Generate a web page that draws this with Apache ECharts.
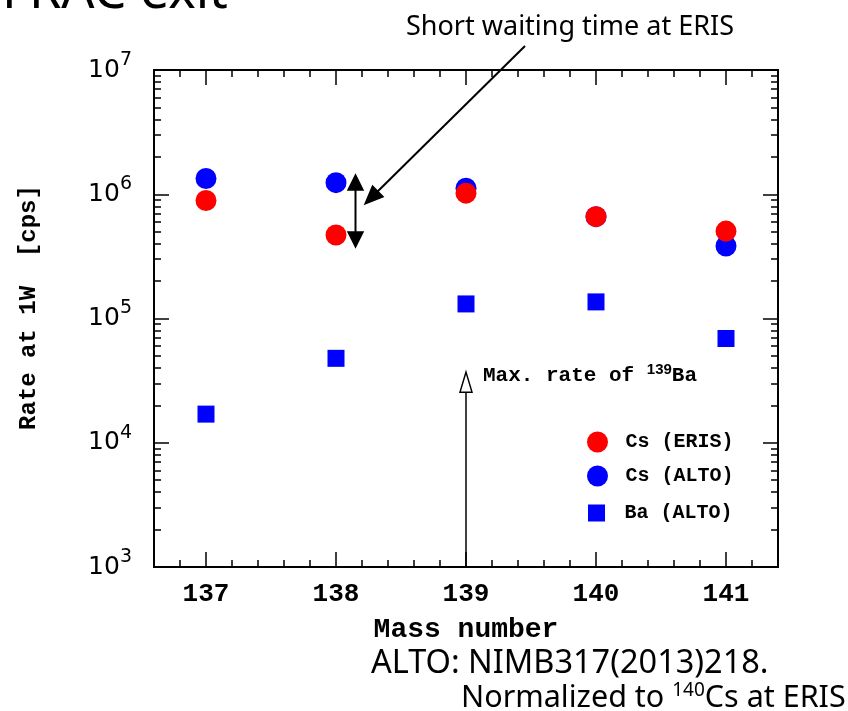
<!DOCTYPE html>
<html><head><meta charset="utf-8">
<script src="https://cdn.jsdelivr.net/npm/echarts@6/dist/echarts.min.js"></script>
<style>html,body{margin:0;padding:0;background:#fff}#c{width:848px;height:711px}</style>
</head><body><div id="c"></div>
<script>
// ---- data ----
const massNumbers = [137, 138, 139, 140, 141];
const csEris = [8.9e5, 4.7e5, 1.02e6, 6.6e5, 5.05e5];
const csAlto = [1.34e6, 1.24e6, 1.12e6, 6.6e5, 3.83e5];
const baAlto = [1.7e4, 4.78e4, 1.31e5, 1.36e5, 6.9e4];
const xMajorTicks = [137, 138, 139, 140, 141];
const xMinorTicks = [136.8, 137.2, 137.4, 137.6, 137.8, 138.2, 138.4, 138.6, 138.8,
  139.2, 139.4, 139.6, 139.8, 140.2, 140.4, 140.6, 140.8, 141.2];
const seriesNames = ['Cs (ERIS)', 'Cs (ALTO)', 'Ba (ALTO)'];
// annotation anchors (data space)
const waitArrow = { x: 138.15, top: 1.43e6, bottom: 3.76e5 };
const maxArrow = { x: 139, top: 3.7e4, bottom: 1e3 };

const mono = 'Liberation Mono';
const sans = 'Noto Sans';
const black = '#000';

const chart = echarts.init(document.getElementById('c'), null, { renderer: 'canvas' });

function xAx(pos, ticks, len, withLabel) {
  const a = {
    type: 'value', position: pos, min: 136.6, max: 141.4,
    axisLine: { show: true, onZero: false, lineStyle: { color: black, width: 2 } },
    axisTick: { show: true, inside: true, length: len, customValues: ticks, lineStyle: { color: black, width: 1.5 } },
    axisLabel: { show: false },
    splitLine: { show: false }
  };
  if (withLabel) {
    a.axisLabel = { show: true, customValues: ticks, margin: 14, fontFamily: mono, fontWeight: 'bold', fontSize: 26, color: black };
    a.name = 'Mass number';
    a.nameLocation = 'middle';
    a.nameGap = 49;
    a.nameTextStyle = { fontFamily: mono, fontWeight: 'bold', fontSize: 28, color: black };
  }
  return a;
}
function yAx(pos, withLabel) {
  const a = {
    type: 'log', logBase: 10, min: 1e3, max: 1e7, position: pos,
    axisLine: { show: true, onZero: false, lineStyle: { color: black, width: 2 } },
    axisTick: { show: true, inside: true, length: 15, lineStyle: { color: black, width: 1.5 } },
    minorTick: { show: true, splitNumber: 9, length: 7, lineStyle: { color: black, width: 1.5 } },
    axisLabel: { show: false },
    splitLine: { show: false }, minorSplitLine: { show: false }
  };
  if (withLabel) {
    a.axisLabel = {
      show: true, margin: 22, fontFamily: 'DejaVu Sans', fontSize: 25, color: black,
      formatter: v => '{b|10}{s|' + Math.round(Math.log10(v)) + '}',
      rich: {
        b: { fontFamily: 'DejaVu Sans', fontSize: 25, color: black },
        s: { fontFamily: 'DejaVu Sans', fontSize: 19, color: black, padding: [0, 0, 20, 0] }
      }
    };
    a.name = 'Rate at 1W  [cps]';
    a.nameLocation = 'middle';
    a.nameGap = 113;
    a.nameTextStyle = { fontFamily: mono, fontWeight: 'bold', fontSize: 24, color: black, padding: [0, 0, 0, 22] };
  }
  return a;
}

const option = {
  animation: false,
  backgroundColor: '#fff',
  grid: { left: 154, top: 70, width: 624, height: 497, show: false },
  xAxis: [xAx('bottom', xMajorTicks, 15, true), xAx('bottom', xMinorTicks, 7, false),
          xAx('top', xMajorTicks, 15, false), xAx('top', xMinorTicks, 7, false)],
  yAxis: [yAx('left', true), yAx('right', false)],
  legend: [
    { data: [{ name: seriesNames[0], icon: 'circle' }, { name: seriesNames[1], icon: 'circle' }],
      orient: 'vertical', left: 587, top: 431.5, padding: 0, itemWidth: 46, itemHeight: 21, itemGap: 13,
      textStyle: { fontFamily: mono, fontWeight: 'bold', fontSize: 20, color: black, lineHeight: 21 } },
    { data: [{ name: seriesNames[2], icon: 'path://M0,0h10v10h-10z' }],
      orient: 'vertical', left: 588, top: 502.5, padding: 0, itemWidth: 46, itemHeight: 17,
      textStyle: { fontFamily: mono, fontWeight: 'bold', fontSize: 20, color: black, lineHeight: 21 } }
  ],
  series: [
    { name: seriesNames[1], type: 'scatter', symbol: 'circle', symbolSize: 21, z: 2,
      itemStyle: { color: '#0000ff', opacity: 1 }, data: massNumbers.map((m, i) => [m, csAlto[i]]) },
    { name: seriesNames[0], type: 'scatter', symbol: 'circle', symbolSize: 21, z: 3,
      itemStyle: { color: '#ff0000', opacity: 1 }, data: massNumbers.map((m, i) => [m, csEris[i]]) },
    { name: seriesNames[2], type: 'scatter', symbol: 'rect', symbolSize: 17, z: 2,
      itemStyle: { color: '#0000ff', opacity: 1 }, data: massNumbers.map((m, i) => [m, baAlto[i]]) }
  ]
};
chart.setOption(option);

// ---- annotations ----
const px = (x, y) => chart.convertToPixel({ xAxisIndex: 0, yAxisIndex: 0 }, [x, y]);
const wt = px(waitArrow.x, waitArrow.top), wb = px(waitArrow.x, waitArrow.bottom);
const mt = px(maxArrow.x, maxArrow.top), mb = px(maxArrow.x, maxArrow.bottom);
const head = 15, hw = 7.5;
function arrowHead(tip, from, len, half, fill) {
  const dx = tip[0] - from[0], dy = tip[1] - from[1];
  const L = Math.hypot(dx, dy), ux = dx / L, uy = dy / L;
  const bx = tip[0] - ux * len, by = tip[1] - uy * len;
  return {
    type: 'polygon', z: 10,
    shape: { points: [tip, [bx - uy * half, by + ux * half], [bx + uy * half, by - ux * half]] },
    style: { fill: fill, stroke: black, lineWidth: 1.5 }
  };
}
const diagFrom = [525, 46], diagTo = [365, 204];
chart.setOption({
  graphic: [
    { type: 'text', left: 2, top: -33, z: 10,
      style: { text: 'FRAC exit', fontFamily: sans, fontSize: 52, fill: black } },
    { type: 'text', left: 406, top: 14, z: 10,
      style: { text: 'Short waiting time at ERIS', fontFamily: sans, fontSize: 27, fill: black } },
    { type: 'text', left: 371, top: 647, z: 10,
      style: { text: 'ALTO: NIMB317(2013)218.', fontFamily: sans, fontSize: 32.5, fill: black } },
    { type: 'text', left: 461, top: 681, z: 10,
      style: { text: 'Normalized to {s|140}Cs at ERIS', fontFamily: sans, fontSize: 30.5, fill: black,
        rich: { s: { fontFamily: sans, fontSize: 19, fill: black, padding: [0, 0, 16, 0] } } } },
    { type: 'text', left: 483, top: 362, z: 10,
      style: { text: 'Max. rate of {s|139}Ba', fontFamily: mono, fontWeight: 'bold', fontSize: 21, fill: black,
        rich: { s: { fontFamily: 'Liberation Sans', fontWeight: 'bold', fontSize: 15, fill: black, padding: [0, 0, 12, 0] } } } },
    // diagonal arrow
    { type: 'line', z: 10, shape: { x1: diagFrom[0], y1: diagFrom[1], x2: diagTo[0] + 8, y2: diagTo[1] - 8 },
      style: { stroke: black, lineWidth: 2 } },
    arrowHead(diagTo, diagFrom, 18, 7.5, black),
    // double arrow
    { type: 'line', z: 10, shape: { x1: wt[0], y1: wt[1] + 10, x2: wb[0], y2: wb[1] - 10 },
      style: { stroke: black, lineWidth: 2 } },
    arrowHead(wt, wb, head, hw, black),
    arrowHead(wb, wt, head, hw, black),
    // max rate arrow
    { type: 'line', z: 10, shape: { x1: mb[0], y1: mb[1], x2: mt[0], y2: mt[1] + 20 },
      style: { stroke: black, lineWidth: 1.5 } },
    arrowHead(mt, mb, 20, 6, '#fff')
  ]
});
</script></body></html>
